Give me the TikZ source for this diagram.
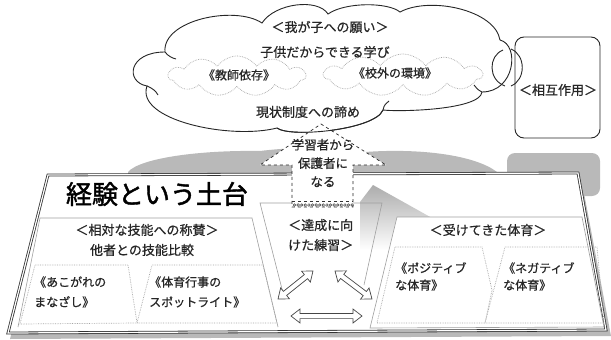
\documentclass[tikz,border=0pt]{standalone}
\usepackage{fontspec}
\newfontfamily\jp[FakeBold=0.7]{Noto Sans CJK JP}
\newfontfamily\jpbold[FakeBold=1.6]{Noto Sans CJK JP}
\usetikzlibrary{arrows.meta,shapes.symbols,calc}
\tikzset{
  txt/.style={font=\jp\fontsize{13}{20}\selectfont, text=black!85, inner sep=0pt},
  stxt/.style={font=\jp\fontsize{12}{20}\selectfont, text=black!85, inner sep=0pt},
  cloudline/.style={draw=black!85, line width=0.9pt},
  dotcloud/.style={cloud, cloud puffs=11, cloud puff arc=110, aspect=3.5, draw=gray!70, densely dotted, line width=0.7pt, inner sep=0pt},
  thinbox/.style={draw=gray!75, line width=0.6pt},
  dotbox/.style={draw=gray!70, densely dotted, line width=0.7pt},
  dblarrow/.style={draw=gray!55!black, line width=0.7pt, fill=white, line join=miter},
  uparrow/.style={draw=black!85, dashed, line width=0.7pt, fill=white},
  shadowgray/.style={fill=gray!55, draw=none}
}
\newcommand\hollowdbl[2]{%
  \draw[dblarrow] let \p1=($(#2)-(#1)$), \n1={atan2(\y1,\x1)}, \n2={veclen(\x1,\y1)} in
    [shift={(#1)}, rotate=\n1] (0,0) -- (9,7) -- (9,2.6) -- (\n2-9,2.6) -- (\n2-9,7) -- (\n2,0)
    -- (\n2-9,-7) -- (\n2-9,-2.6) -- (9,-2.6) -- (9,-7) -- cycle;}
\begin{document}
\begin{tikzpicture}[x=1pt, y=-1pt]
\useasboundingbox (0,0) rectangle (611,340);

% gray band below the cloud and shadow of the right box
\path[shadowgray] (128,172) .. controls (140,158) and (200,150) .. (260,151)
  .. controls (300,146) and (340,148) .. (365,152)
  .. controls (420,148) and (475,155) .. (497,172) -- (497,180) -- (128,180) -- cycle;
\path[shadowgray, rounded corners=8pt] (507,153) rectangle (600,196);

% cloud
\def\cloudpath{(147,86) .. controls (125,82) and (128,52) .. (165,52)
  .. controls (162,20) and (235,5) .. (262,23)
  .. controls (275,3) and (318,-2) .. (328,14)
  .. controls (345,2) and (388,2) .. (400,12)
  .. controls (430,-4) and (495,10) .. (500,40)
  .. controls (520,45) and (515,92) .. (482,92)
  .. controls (480,110) and (400,112) .. (383,110)
  .. controls (375,130) and (290,138) .. (277,128)
  .. controls (230,140) and (135,120) .. (147,86) -- cycle}
\path[fill=white] \cloudpath;
\draw[cloudline] \cloudpath;
\draw[cloudline] (165,52) .. controls (168,56) and (172,58) .. (176,59);
\draw[cloudline] (383,110) .. controls (384,105) and (386,103) .. (389,101);
\draw[cloudline] (482,92) .. controls (478,90) and (476,88) .. (474,85);
\draw[cloudline] (147,86) .. controls (152,88) and (156,91) .. (158,95);

\node[dotcloud, minimum width=137pt, minimum height=40pt] (cl) at (237,76) {};
\node[dotcloud, minimum width=158pt, minimum height=42pt] (cr) at (403,75) {};

% interaction box
\node[draw=black!85, line width=0.9pt, rounded corners=9pt, minimum width=85pt, minimum height=101pt, inner sep=0pt] (inter) at (557.5,87.5) {};
\coordinate (ia1) at (503,50); \coordinate (ia2) at (505,86);
\coordinate (ib1) at (511,49); \coordinate (ib2) at (511,86);
\draw[cloudline] (ia1) .. controls (488,56) and (488,80) .. (ia2);
\draw[cloudline] (ib1) .. controls (526,55) and (526,80) .. (ib2);

% main box with shadow
\path[shadowgray] (51,179) -- (581,177) -- (611,336) -- (10,339) -- cycle;
\draw[fill=white, draw=black!80, line width=0.8pt, double=white, double distance=1.2pt] (48,175) -- (578,173) -- (606,330) -- (8,333) -- cycle;

% gray shadow of the up arrow
\shade[top color=gray!65, bottom color=white] (373,185) -- (432,218) -- (407,218) -- (407,250) -- (360,250) -- (360,202) -- cycle;

% left trapezoid
\draw[thinbox] (18,327) -- (40,218) -- (252,218) -- (278,327);
\draw[dotbox] (35,265) -- (128,265) -- (137,323) -- (20,324) -- cycle;
\draw[dotbox] (152,265) -- (263,265) -- (277,323) -- (137,323) -- cycle;

% middle trapezoid
\draw[thinbox] (283,293) -- (260,203) -- (382,203) -- (364,285);
\coordinate (m1) at (278,299); \coordinate (m2) at (313,271);
\coordinate (m3) at (335,271); \coordinate (m4) at (372,299);
\coordinate (m5) at (291,316); \coordinate (m6) at (362,316);
\hollowdbl{m1}{m2}
\hollowdbl{m3}{m4}
\hollowdbl{m5}{m6}

% right trapezoid
\draw[thinbox, fill=white] (370,328) -- (397,217) -- (582,217) -- (604,327) -- cycle;
\draw[dotbox] (395,247) -- (482,247) -- (492,290) -- (485,323) -- (377,323) -- cycle;
\draw[dotbox] (505,247) -- (597,247) -- (604,323) -- (485,323) -- cycle;

% up arrow
\draw[uparrow] (321,124) -- (386,165) -- (353,165) -- (353,207) -- (292,207) -- (292,165) -- (260,165) -- cycle;
\draw[black!80, dashed, line width=0.6pt] (292,201.5) -- (353,201.5);
\foreach \i in {0,...,16} { \draw[black!75, line width=0.5pt] (294.5+3.6*\i,205) circle[radius=1.3pt]; }

% redraw cloud outline over the arrow head
\draw[cloudline] (383,110) .. controls (375,130) and (290,138) .. (277,128);

% texts
\node[txt] (t1) at (330,27) {＜我が子への願い＞};
\node[txt] (t2) at (325,52) {子供だからできる学び};
\node[stxt] (t3) at (239,75) {《教師依存》};
\node[stxt] (t4) at (395,73) {《校外の環境》};
\node[txt] (t5) at (308,112) {現状制度への諦め};
\node[txt, fill=white, inner sep=0.5pt] (t6) at (558,90) {＜相互作用＞};
\node[txt, align=center, font=\jp\fontsize{12.5}{18.5}\selectfont] (t7) at (323,163) {学習者から\\保護者に\\なる};
\node[inner sep=0pt, font=\jpbold\fontsize{26}{30}\selectfont, text=black] (t8) at (157,194) {経験という土台};
\node[txt] (t9) at (147,230) {＜相対な技能への称賛＞};
\node[txt] (t10) at (142,250) {他者との技能比較};
\node[stxt, align=left, anchor=west] (t11) at (34,292) {《あこがれの\\まなざし》};
\node[stxt, align=left, anchor=west] (t12) at (149,292) {《体育行事の\\スポットライト》};
\node[txt, align=left, anchor=west] (t13) at (288,235) {＜達成に向\\けた練習＞};
\node[txt] (t14) at (488,230) {＜受けてきた体育＞};
\node[stxt, align=left, anchor=west, font=\jp\fontsize{12}{17}\selectfont] (t15) at (395,276.5) {《ポジティブ\\な体育》};
\node[stxt, align=left, anchor=west, font=\jp\fontsize{12}{17}\selectfont] (t16) at (503,276.5) {《ネガティブ\\な体育》};
\end{tikzpicture}
\end{document}
